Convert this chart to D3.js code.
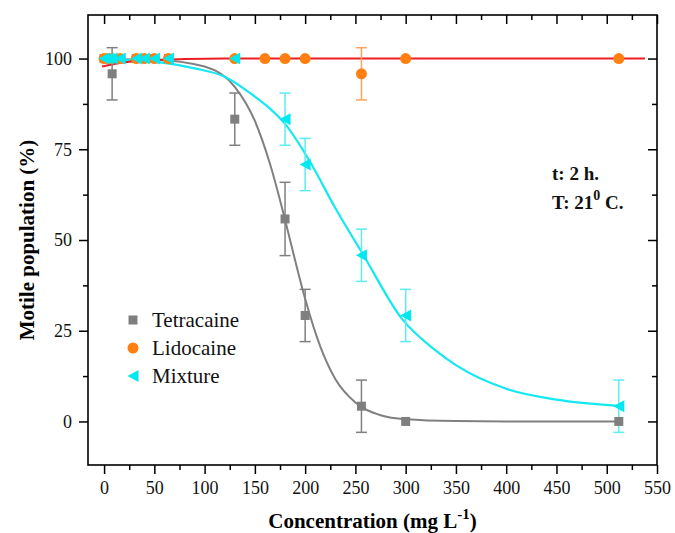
<!DOCTYPE html>
<html>
<head>
<meta charset="utf-8">
<script src="https://cdn.jsdelivr.net/npm/d3@7"></script>
<style>
  body { margin: 0; background: #fff; }
  svg, svg text { font-family: "Liberation Serif", "Times New Roman", Tinos, "DejaVu Serif", serif; }
</style>
</head>
<body>
<div id="chart"></div>
<script>
// measured points (concentration mg/L, motile %, error)
const tetraX = [0, 4, 8, 16, 32, 40, 50, 64, 130, 180, 200, 256, 300, 512];
const tetraY = [100, 100, 95.8, 100, 100, 100, 100, 100, 83.3, 55.8, 29.2, 4.2, 0, 0];
const tetraErr = [0, 0, 7.2, 0, 0, 0, 0, 0, 7.2, 10.1, 7.2, 7.2, 0, 0];

const lidoX = [0, 4, 8, 16, 32, 40, 50, 64, 130, 160, 180, 200, 256, 300, 512];
const lidoY = [100, 100, 100, 100, 100, 100, 100, 100, 100, 100, 100, 100, 95.8, 100, 100];
const lidoErr = [0, 0, 0, 0, 0, 0, 0, 0, 0, 0, 0, 0, 7.2, 0, 0];

const mixX = [0, 4, 8, 16, 32, 40, 50, 64, 130, 180, 200, 256, 300, 512];
const mixY = [100, 100, 100, 100, 100, 100, 100, 100, 100, 83.3, 70.8, 45.8, 29.2, 4.2];
const mixErr = [0, 0, 0, 0, 0, 0, 0, 0, 0, 7.2, 7.2, 7.2, 7.2, 7.2];

// fitted curves
const tetraFitX = [0, 50, 100, 130, 150, 165, 180, 190, 200, 215, 230, 250, 275, 300, 350, 400, 512];
const tetraFitY = [99.9, 99.7, 97.8, 92.2, 82.8, 71.0, 55.6, 44.4, 33.8, 20.7, 11.7, 5.2, 1.7, 0.6, 0.1, 0, 0];

const lidoFitX = [-2, 10, 25, 50, 80, 120, 200, 300, 400, 538];
const lidoFitY = [97.8, 98.5, 99.1, 99.6, 99.85, 100, 100, 100, 100, 100];

const mixFitX = [0, 30, 60, 90, 120, 150, 165, 180, 205, 230, 258, 296, 330, 350, 400, 450, 512];
const mixFitY = [99.8, 99.5, 98.8, 97.3, 95.0, 89.5, 86.2, 82.0, 71.5, 58.8, 45.8, 28.4, 19.5, 15.5, 9.0, 6.0, 4.3];

const xMajor = d3.range(0, 551, 50);
const xMinor = d3.range(25, 550, 50);
const yMajor = [0, 25, 50, 75, 100];
const yMinor = [12.5, 37.5, 62.5, 87.5];

const legendNames = ["Tetracaine", "Lidocaine", "Mixture"];

const FONT = '"Liberation Serif", "Times New Roman", Tinos, "DejaVu Serif", serif';
const W = 675, H = 533;
const frame = { left: 88, right: 657, top: 15, bottom: 465 };

const x = d3.scaleLinear().domain([-16, 550]).range([frame.left, frame.right]);
const y = d3.scaleLinear().domain([-12, 112]).range([frame.bottom, frame.top]);

const svg = d3.select("#chart").append("svg")
  .attr("width", W).attr("height", H).attr("font-family", FONT);

const zip = (xs, ys, es) => xs.map((v, i) => ({ x: v, y: ys[i], e: es ? es[i] : 0 }));

// axes
function axis(gen, tx, ty, values, size, labels) {
  const g = svg.append("g").attr("transform", `translate(${tx},${ty})`)
    .call(gen.tickValues(values).tickSize(size).tickPadding(labels ? 7 : 0)
      .tickFormat(labels ? d3.format("d") : ""));
  g.attr("font-family", FONT).attr("font-size", 18);
  g.select(".domain").remove();
  g.selectAll(".tick line").attr("stroke", "#000").attr("stroke-width", 1.5);
  g.selectAll(".tick text").attr("fill", "#111");
  return g;
}
axis(d3.axisBottom(x), 0, frame.bottom, xMajor, 9, true);
axis(d3.axisBottom(x), 0, frame.bottom, xMinor, 5, false);
axis(d3.axisTop(x), 0, frame.top, xMajor, -9, false);
axis(d3.axisTop(x), 0, frame.top, xMinor, -5, false);
axis(d3.axisLeft(y), frame.left, 0, yMajor, 9, true);
axis(d3.axisLeft(y), frame.left, 0, yMinor, 5, false);
axis(d3.axisRight(y), frame.right, 0, yMajor, -9, false);
axis(d3.axisRight(y), frame.right, 0, yMinor, -5, false);

svg.append("rect")
  .attr("x", frame.left).attr("y", frame.top)
  .attr("width", frame.right - frame.left).attr("height", frame.bottom - frame.top)
  .attr("fill", "none").attr("stroke", "#000").attr("stroke-width", 1.6);

// axis titles
svg.append("text")
  .attr("transform", `translate(34,${(frame.top + frame.bottom) / 2}) rotate(-90)`)
  .attr("text-anchor", "middle").attr("font-size", 21).attr("font-weight", "bold")
  .text("Motile population (%)");

const xt = svg.append("text")
  .attr("x", (frame.left + frame.right) / 2).attr("y", 528)
  .attr("text-anchor", "middle").attr("font-size", 21).attr("font-weight", "bold");
xt.append("tspan").text("Concentration (mg L");
xt.append("tspan").attr("font-size", 15).attr("dy", -9).text("-1");
xt.append("tspan").attr("dy", 9).text(")");

// fit curves
const line = d3.line().x(d => x(d.x)).y(d => y(d.y)).curve(d3.curveMonotoneX);
const plot = svg.append("g");
plot.append("path").datum(zip(tetraFitX, tetraFitY)).attr("d", line)
  .attr("fill", "none").attr("stroke", "#808080").attr("stroke-width", 2);
plot.append("path").datum(zip(mixFitX, mixFitY)).attr("d", line)
  .attr("fill", "none").attr("stroke", "#14e8f0").attr("stroke-width", 2.2);
plot.append("path").datum(zip(lidoFitX, lidoFitY)).attr("d", line)
  .attr("fill", "none").attr("stroke", "#ee1c25").attr("stroke-width", 2);

// error bars
function errorBars(data, color) {
  const g = plot.append("g").attr("stroke", color).attr("stroke-width", 1.5);
  data.filter(d => d.e > 0).forEach(d => {
    const cx = x(d.x), y1 = y(d.y + d.e), y2 = y(d.y - d.e);
    g.append("line").attr("x1", cx).attr("x2", cx).attr("y1", y1).attr("y2", y2);
    g.append("line").attr("x1", cx - 5.5).attr("x2", cx + 5.5).attr("y1", y1).attr("y2", y1);
    g.append("line").attr("x1", cx - 5.5).attr("x2", cx + 5.5).attr("y1", y2).attr("y2", y2);
  });
}
const tetra = zip(tetraX, tetraY, tetraErr);
const lido = zip(lidoX, lidoY, lidoErr);
const mix = zip(mixX, mixY, mixErr);
errorBars(tetra, "#808080");
errorBars(lido, "#f7a55a");
errorBars(mix, "#5cecf2");

// markers
const square = d3.symbol().type(d3.symbolSquare).size(81);
const circle = d3.symbol().type(d3.symbolCircle).size(95);
const triLeft = "M-5.5,0L5.5,-6L5.5,6Z";

function markers(data, path, color) {
  plot.append("g").selectAll("path").data(data).join("path")
    .attr("transform", d => `translate(${x(d.x)},${y(d.y)})`)
    .attr("d", path).attr("fill", color);
}
markers(tetra, square(), "#7f7f7f");
markers(lido, circle(), "#ff8010");
markers(mix, triLeft, "#00e8f0");

// legend
const legendMarks = [square(), circle(), triLeft];
const legendColors = ["#7f7f7f", "#ff8010", "#00e8f0"];
const lg = svg.append("g").attr("transform", "translate(133,320)");
legendNames.forEach((name, i) => {
  const row = lg.append("g").attr("transform", `translate(0,${i * 28})`);
  row.append("path").attr("d", legendMarks[i]).attr("fill", legendColors[i]);
  row.append("text").attr("x", 19).attr("dy", "0.33em").attr("font-size", 21)
    .attr("fill", "#111").text(name);
});

// conditions note
const note = svg.append("g").attr("font-size", 19).attr("font-weight", "bold").attr("fill", "#111");
note.append("text").attr("x", 552).attr("y", 180).text("t: 2 h.");
const t2 = note.append("text").attr("x", 552).attr("y", 209);
t2.append("tspan").text("T: 21");
t2.append("tspan").attr("font-size", 14).attr("dy", -9).text("0");
t2.append("tspan").attr("dy", 9).text(" C.");
</script>
</body>
</html>
